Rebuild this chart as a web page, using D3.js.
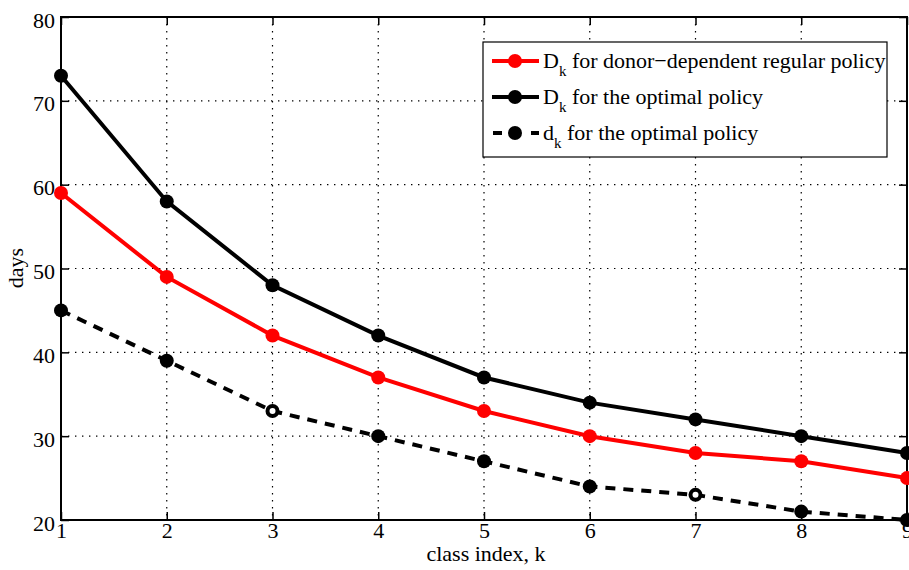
<!DOCTYPE html>
<html>
<head>
<meta charset="utf-8">
<script src="https://cdn.jsdelivr.net/npm/d3@7"></script>
<style>
  body { margin: 0; background: #fff; }
  svg text { font-family: "Liberation Serif", "Times New Roman", Times, "DejaVu Serif", serif; fill: #000; }
</style>
</head>
<body>
<script>
/* data */
var classIndex = [1, 2, 3, 4, 5, 6, 7, 8, 9]
var donorDependent = [59, 49, 42, 37, 33, 30, 28, 27, 25]
var optimalD = [73, 58, 48, 42, 37, 34, 32, 30, 28]
var optimalSmallD = [45, 39, 33, 30, 27, 24, 23, 21, 20]
var xTicks = [1, 2, 3, 4, 5, 6, 7, 8, 9]
var yTicks = [20, 30, 40, 50, 60, 70, 80]
var hollowMarks = [3, 7]

var series = [
    { name: 'D', label: ' for donor\u2212dependent regular policy', values: donorDependent, color: '#ff0000', dash: null },
    { name: 'D', label: ' for the optimal policy', values: optimalD, color: '#000', dash: null },
    { name: 'd', label: ' for the optimal policy', values: optimalSmallD, color: '#000', dash: '10,8' }
]

/* setup */
var width = 909
var height = 570
var margin = { left: 61, right: 2, top: 17, bottom: 50 }
var serif = '"Liberation Serif", "Times New Roman", Times, "DejaVu Serif", serif'

var svg = d3.select('body').append('svg')
    .attr('width', width)
    .attr('height', height)

var x = d3.scaleLinear().domain([1, 9]).range([margin.left, width - margin.right])
var y = d3.scaleLinear().domain([20, 80]).range([height - margin.bottom, margin.top])

/* grid */
var grid = svg.append('g')
    .attr('stroke', '#000')
    .attr('stroke-width', 1.2)
    .attr('stroke-dasharray', '1.4,5.6')

grid.selectAll('.gx').data(xTicks.slice(1, -1)).enter().append('line')
    .attr('x1', function(d) { return x(d) }).attr('x2', function(d) { return x(d) })
    .attr('y1', y(80)).attr('y2', y(20))

grid.selectAll('.gy').data(yTicks.slice(1, -1)).enter().append('line')
    .attr('y1', function(d) { return y(d) }).attr('y2', function(d) { return y(d) })
    .attr('x1', x(1)).attr('x2', x(9))

/* axes */
var tickLen = 8
var xAxisB = d3.axisBottom(x).tickValues(xTicks).tickSize(-tickLen)
var xAxisT = d3.axisTop(x).tickValues(xTicks).tickSize(-tickLen).tickFormat('')
var yAxisL = d3.axisLeft(y).tickValues(yTicks).tickSize(-tickLen).tickPadding(6)
var yAxisR = d3.axisRight(y).tickValues(yTicks).tickSize(-tickLen).tickFormat('')

function styleAxis(g) {
    g.attr('font-family', serif).attr('font-size', 22)
    g.select('.domain').remove()
    g.selectAll('.tick line').attr('stroke', '#000').attr('stroke-width', 1.5)
    g.selectAll('.tick text').style('font-family', serif).style('font-size', '22px')
}

var gxB = svg.append('g').attr('transform', 'translate(0,' + y(20) + ')').call(xAxisB).call(styleAxis)
svg.append('g').attr('transform', 'translate(0,' + y(80) + ')').call(xAxisT).call(styleAxis)
var gyL = svg.append('g').attr('transform', 'translate(' + x(1) + ',0)').call(yAxisL).call(styleAxis)
svg.append('g').attr('transform', 'translate(' + x(9) + ',0)').call(yAxisR).call(styleAxis)

gxB.selectAll('.tick text').attr('y', 18).attr('dy', 0)
gyL.selectAll('.tick text').attr('dy', 10)

svg.append('rect')
    .attr('x', x(1)).attr('y', y(80))
    .attr('width', x(9) - x(1)).attr('height', y(20) - y(80))
    .attr('fill', 'none').attr('stroke', '#000').attr('stroke-width', 2)

/* axis labels */
svg.append('text')
    .attr('x', 486).attr('y', 561)
    .attr('text-anchor', 'middle')
    .style('font-size', '22px')
    .text('class index, k')

svg.append('text')
    .attr('transform', 'translate(23,' + 268 + ') rotate(-90)')
    .attr('text-anchor', 'middle')
    .style('font-size', '22px')
    .text('days')

/* lines */
var line = d3.line()
    .x(function(d, i) { return x(classIndex[i]) })
    .y(function(d) { return y(d) })

var gSeries = svg.append('g')
series.forEach(function(s, si) {
    gSeries.append('path')
        .datum(s.values)
        .attr('d', line)
        .attr('fill', 'none')
        .attr('stroke', s.color)
        .attr('stroke-width', 4)
        .attr('stroke-dasharray', s.dash)

    gSeries.selectAll('.m' + si).data(s.values).enter().append('circle')
        .attr('cx', function(d, i) { return x(classIndex[i]) })
        .attr('cy', function(d) { return y(d) })
        .attr('r', 7)
        .attr('fill', s.color)

    if (si === 2) {
        gSeries.selectAll('.h').data(hollowMarks).enter().append('circle')
            .attr('cx', function(k) { return x(k) })
            .attr('cy', function(k) { return y(s.values[k - 1]) })
            .attr('r', 3)
            .attr('fill', '#fff')
    }
})

/* legend */
var legend = svg.append('g')
legend.append('rect')
    .attr('x', 483).attr('y', 42)
    .attr('width', 404).attr('height', 115)
    .attr('fill', '#fff').attr('stroke', '#000').attr('stroke-width', 1.2)

var rowY = [61, 97, 133]
series.forEach(function(s, i) {
    var ly = rowY[i]
    legend.append('line')
        .attr('x1', 492).attr('x2', 539)
        .attr('y1', ly).attr('y2', ly)
        .attr('stroke', s.color).attr('stroke-width', 4)
        .attr('stroke-dasharray', s.dash ? '9,10' : null)
        .attr('stroke-dashoffset', s.dash ? -1 : null)
    legend.append('circle')
        .attr('cx', 515).attr('cy', ly).attr('r', 7)
        .attr('fill', s.color)
    var t = legend.append('text')
        .attr('x', 543).attr('y', ly + 7)
        .style('font-size', '22px')
    t.append('tspan').text(s.name)
    t.append('tspan').attr('dy', 8).style('font-size', '15px').text('k')
    t.append('tspan').attr('dy', -8).text(s.label)
})
</script>
</body>
</html>
